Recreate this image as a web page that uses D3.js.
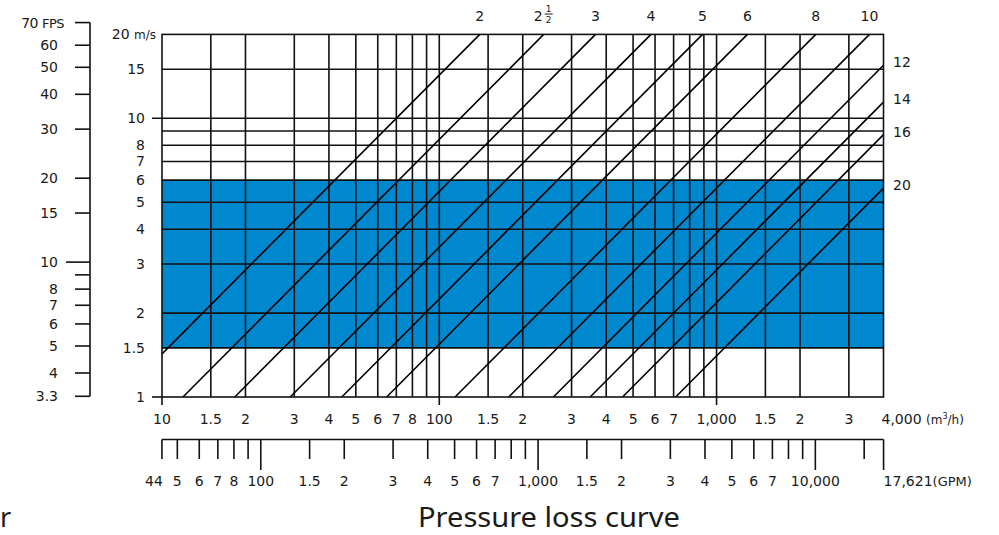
<!DOCTYPE html>
<html>
<head>
<meta charset="utf-8">
<script src="https://cdn.jsdelivr.net/npm/d3@7"></script>
<style>
  body { margin: 0; background: #fff; }
  text { font-family: "DejaVu Sans", sans-serif; fill: #1a1a1a; }
</style>
</head>
<body>
<script>
// flow axis (m3/h) - vertical grid lines and labels
var flowGrid = [15,20,30,40,50,60,70,80,90,100,150,200,300,400,500,600,700,800,900,1000,1500,2000,3000];
var flowTicks = [10,15,20,30,40,50,60,70,80,100,150,200,300,400,500,600,700,1000,1500,2000,3000];
var flowLabels = ["10","1.5","2","3","4","5","6","7","8","100","1.5","2","3","4","5","6","7","1,000","1.5","2","3"];

// flow axis (GPM)
var gpmTicks = [44,50,60,70,80,90,100,150,200,300,400,500,600,700,800,900,1000,1500,2000,3000,4000,5000,6000,7000,8000,9000,10000,15000,17621];
var gpmLong = [100,1000,10000,17621];
var gpmLabelVals = [44,50,60,70,80,100,150,200,300,400,500,600,700,1000,1500,2000,3000,4000,5000,6000,7000,10000];
var gpmLabels = ["44","5","6","7","8","100","1.5","2","3","4","5","6","7","1,000","1.5","2","3","4","5","6","7","10,000"];

// velocity axis (m/s)
var velGrid = [1.5,2,3,4,5,6,7,8,9,10,15];
var velLabelVals = [1,1.5,2,3,4,5,6,7,8,10,15];
var velLabels = ["1","1.5","2","3","4","5","6","7","8","10","15"];

// velocity axis (FPS)
var fpsTicks = [70,60,50,40,30,20,15,10,9,8,7,6,5,4,3.3];
var fpsLabelVals = [60,50,40,30,20,15,10,8,7,6,5,4,3.3];
var fpsLabels = ["60","50","40","30","20","15","10","8","7","6","5","4","3.3"];

// recommended velocity band (m/s)
var band = [1.5, 6];

// pipe sizes: flow (m3/h) at 1 m/s
var pipeLabels = ["2","2½","3","4","5","6","8","10","12","14","16","20"];
var pipeFlowAt1 = [7.0,11.9,18.3,29.0,44.5,64.6,114,178,258,350,458,712];

var M3H_TO_GPM = 4.4029, MS_TO_FPS = 3.2808;

var svg = d3.select("body").append("svg").attr("width",999).attr("height",535);

var x = d3.scaleLog().domain([10,4000]).range([162,883.5]);
var y = d3.scaleLog().domain([1,20]).range([397,34.4]);
var xg = d3.scaleLog().domain([10*M3H_TO_GPM,4000*M3H_TO_GPM]).range([162,883.5]);
var yf = d3.scaleLog().domain([1*MS_TO_FPS,20*MS_TO_FPS]).range([397,34.4]);

var ink = "#111", sw = 1.6;

// blue band
svg.append("rect")
  .attr("x",x(10)).attr("width",x(4000)-x(10))
  .attr("y",y(band[1])).attr("height",y(band[0])-y(band[1]))
  .attr("fill","#0088cf");

// grid
svg.selectAll(".vg").data(flowGrid).enter().append("line")
  .attr("x1",d=>x(d)).attr("x2",d=>x(d))
  .attr("y1",y(20)).attr("y2",d=>(d==100||d==1000)?y(1)+8:y(1))
  .attr("stroke",ink).attr("stroke-width",sw);
svg.selectAll(".hg").data(velGrid).enter().append("line")
  .attr("x1",d=>d==10?x(10)-10:x(10)).attr("x2",x(4000))
  .attr("y1",d=>y(d)).attr("y2",d=>y(d))
  .attr("stroke",ink).attr("stroke-width",sw);

// pipe lines
pipeFlowAt1.forEach(function(k,i){
  var q0 = Math.max(10,k*1), q1 = Math.min(4000,k*20);
  svg.append("line")
    .attr("x1",x(q0)).attr("y1",y(q0/k))
    .attr("x2",x(q1)).attr("y2",y(q1/k))
    .attr("stroke","#000").attr("stroke-width",1.6);
  if (k*20 <= 4000) {
    var lx = x(k*20);
    if (pipeLabels[i]=="2½") {
      var g = svg.append("g").attr("transform","translate("+lx+",0)");
      g.append("text").attr("x",-1).attr("y",21).attr("text-anchor","end").attr("font-size",14).text("2");
      g.append("text").attr("x",5).attr("y",12).attr("text-anchor","middle").attr("font-size",9).text("1");
      g.append("line").attr("x1",1).attr("x2",9).attr("y1",14).attr("y2",14).attr("stroke","#1a1a1a").attr("stroke-width",1);
      g.append("text").attr("x",5).attr("y",23).attr("text-anchor","middle").attr("font-size",9).text("2");
    } else {
      svg.append("text").attr("x",lx).attr("y",21).attr("text-anchor","middle").attr("font-size",14).text(pipeLabels[i]);
    }
  } else {
    svg.append("text").attr("x",893).attr("y",y(4000/k)+2).attr("font-size",14).text(pipeLabels[i]);
  }
});

// border
svg.append("rect").attr("x",x(10)).attr("y",y(20)).attr("width",x(4000)-x(10)).attr("height",y(1)-y(20))
  .attr("fill","none").attr("stroke",ink).attr("stroke-width",sw);
svg.append("line").attr("x1",x(10)-10).attr("x2",x(10)).attr("y1",y(1)).attr("y2",y(1)).attr("stroke",ink).attr("stroke-width",sw);
svg.append("line").attr("x1",x(10)).attr("x2",x(10)).attr("y1",y(1)).attr("y2",y(1)+8).attr("stroke",ink).attr("stroke-width",sw);

// m/s labels
svg.selectAll(".vl").data(velLabelVals).enter().append("text")
  .attr("x",145).attr("y",d=>y(d)+5).attr("text-anchor","end").attr("font-size",14)
  .text((d,i)=>velLabels[i]);
var t20 = svg.append("text").attr("x",156).attr("y",y(20)+5).attr("text-anchor","end").attr("font-size",14);
t20.append("tspan").text("20 ");
t20.append("tspan").attr("font-size",12).text("m/s");

// FPS axis
svg.append("line").attr("x1",90).attr("x2",90).attr("y1",yf(70)-4).attr("y2",yf(3.3))
  .attr("stroke",ink).attr("stroke-width",sw);
svg.selectAll(".ft").data(fpsTicks).enter().append("line")
  .attr("x1",d=>d==10?66:75).attr("x2",90)
  .attr("y1",(d,i)=>i==0?yf(d)-4:yf(d)).attr("y2",(d,i)=>i==0?yf(d)-4:yf(d))
  .attr("stroke",ink).attr("stroke-width",sw);
svg.selectAll(".fl").data(fpsLabelVals).enter().append("text")
  .attr("x",58).attr("y",d=>yf(d)+5).attr("text-anchor","end").attr("font-size",14)
  .text((d,i)=>fpsLabels[i]);
var t70 = svg.append("text").attr("x",64).attr("y",yf(70)+1).attr("text-anchor","end").attr("font-size",14)
  .attr("letter-spacing",-0.5);
t70.append("tspan").text("70 ");
t70.append("tspan").attr("font-size",13).text("FPS");

// m3/h labels
svg.selectAll(".xl").data(flowTicks).enter().append("text")
  .attr("x",d=>x(d)).attr("y",424).attr("text-anchor","middle").attr("font-size",14)
  .text((d,i)=>flowLabels[i]);
var t4k = svg.append("text").attr("x",x(4000)-2).attr("y",424).attr("font-size",14);
t4k.append("tspan").text("4,000 ");
t4k.append("tspan").attr("font-size",12).text("(m");
t4k.append("tspan").attr("font-size",8).attr("dy",-5).text("3");
t4k.append("tspan").attr("font-size",12).attr("dy",5).text("/h)");

// GPM axis
svg.append("line").attr("x1",xg(gpmTicks[0])).attr("x2",xg(17621)).attr("y1",439.5).attr("y2",439.5)
  .attr("stroke",ink).attr("stroke-width",sw);
svg.selectAll(".gt").data(gpmTicks).enter().append("line")
  .attr("x1",d=>xg(d)).attr("x2",d=>xg(d))
  .attr("y1",439.5).attr("y2",d=>gpmLong.indexOf(d)>=0?470:459)
  .attr("stroke",ink).attr("stroke-width",sw);
svg.selectAll(".gl").data(gpmLabelVals).enter().append("text")
  .attr("x",(d,i)=>i==0?xg(d)-8:xg(d)).attr("y",486).attr("text-anchor","middle").attr("font-size",14)
  .text((d,i)=>gpmLabels[i]);
var tg = svg.append("text").attr("x",xg(17621)).attr("y",486).attr("font-size",14);
tg.append("tspan").text("17,621");
tg.append("tspan").attr("font-size",13).text("(GPM)");

// title
svg.append("text").attr("x",549).attr("y",527).attr("text-anchor","middle")
  .style("font-family","'Noto Sans', sans-serif").attr("font-size",27)
  .attr("textLength",262).attr("lengthAdjust","spacingAndGlyphs").text("Pressure loss curve");
svg.append("text").attr("x",0).attr("y",527)
  .style("font-family","'Noto Sans', sans-serif").attr("font-size",27).text("r");
</script>
</body>
</html>
